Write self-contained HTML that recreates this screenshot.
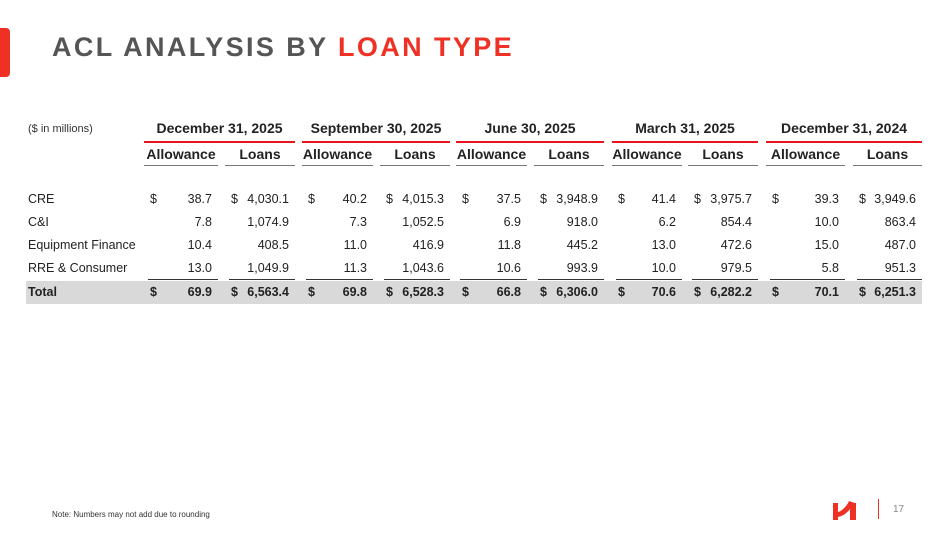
<!DOCTYPE html>
<html><head><meta charset="utf-8"><style>
body{margin:0;width:949px;height:534px;background:#fff;position:relative;overflow:hidden;font-family:"Liberation Sans",sans-serif;color:#222}
.a{position:absolute;white-space:nowrap}
.r{text-align:right}
.t{font-size:12.5px}
.b{font-weight:bold}
</style></head><body>
<div class="a" style="left:0;top:28px;width:10px;height:49px;background:#ee3124;border-radius:0 4px 4px 0"></div>
<div class="a" style="left:52px;top:32px;font-size:27px;font-weight:bold;letter-spacing:2.4px;color:#555">ACL ANALYSIS BY <span style="color:#ee3124">LOAN TYPE</span></div>
<div class="a" style="left:28px;top:123px;font-size:11px;color:#333">($ in millions)</div>
<div class="a" style="left:26px;top:281px;width:896px;height:23px;background:#d9d9d9"></div>
<div id="c"></div>
<div class="a" style="left:52px;top:510px;font-size:8px;color:#333">Note: Numbers may not add due to rounding</div>
<svg class="a" style="left:832px;top:500px" width="30" height="20" viewBox="0 0 30 20"><path d="M1 3h5v9c4-1 9-6 11-11 3 1 5 2 7 2v17h-6V9c-3 4-7 7-12 8v3H1z" fill="#ee3124"/></svg>
<div class="a" style="left:878px;top:499px;width:1px;height:20px;background:#ee3124"></div>
<div class="a" style="left:893px;top:504px;font-size:10px;color:#888">17</div>
<script>
var g=[["December 31, 2025",144,218,225,295],["September 30, 2025",302,373,380,450],["June 30, 2025",456,527,534,604],["March 31, 2025",612,682,688,758],["December 31, 2024",766,845,853,922]];
var d=[["38.7","4,030.1","7.8","1,074.9","10.4","408.5","13.0","1,049.9","69.9","6,563.4"],
["40.2","4,015.3","7.3","1,052.5","11.0","416.9","11.3","1,043.6","69.8","6,528.3"],
["37.5","3,948.9","6.9","918.0","11.8","445.2","10.6","993.9","66.8","6,306.0"],
["41.4","3,975.7","6.2","854.4","13.0","472.6","10.0","979.5","70.6","6,282.2"],
["39.3","3,949.6","10.0","863.4","15.0","487.0","5.8","951.3","70.1","6,251.3"]];
var labels=["CRE","C&amp;I","Equipment Finance","RRE &amp; Consumer","<b>Total</b>"];
var ys=[192,215,238,261,285];
var h="";
for(var i=0;i<5;i++)h+='<div class="a t" style="left:28px;top:'+ys[i]+'px">'+labels[i]+'</div>';
g.forEach(function(q,k){
var s=q[1],ae=q[2],ls=q[3],e=q[4];
h+='<div class="a b r" style="left:'+s+'px;width:'+(e-s)+'px;text-align:center;top:120px;font-size:14px">'+q[0]+'</div>';
h+='<div class="a" style="left:'+s+'px;top:141px;width:'+(e-s)+'px;height:2px;background:#e8141c"></div>';
h+='<div class="a b" style="left:'+s+'px;width:'+(ae-s)+'px;text-align:center;top:146px;font-size:14px">Allowance</div>';
h+='<div class="a b" style="left:'+ls+'px;width:'+(e-ls)+'px;text-align:center;top:146px;font-size:14px">Loans</div>';
h+='<div class="a" style="left:'+s+'px;top:165px;width:'+(ae-s)+'px;height:1px;background:#777"></div>';
h+='<div class="a" style="left:'+ls+'px;top:165px;width:'+(e-ls)+'px;height:1px;background:#777"></div>';
h+='<div class="a" style="left:'+(s+4)+'px;top:279px;width:'+(ae-s-4)+'px;height:1px;background:#333"></div>';
h+='<div class="a" style="left:'+(ls+4)+'px;top:279px;width:'+(e-ls-4)+'px;height:1px;background:#333"></div>';
for(var r=0;r<5;r++){
var cls=r==4?'a t b':'a t';
if(r==0||r==4){
h+='<div class="'+cls+'" style="left:'+(s+6)+'px;top:'+ys[r]+'px">$</div>';
h+='<div class="'+cls+'" style="left:'+(ls+6)+'px;top:'+ys[r]+'px">$</div>';}
h+='<div class="'+cls+' r" style="left:'+(s)+'px;width:'+(ae-s-6)+'px;top:'+ys[r]+'px">'+d[k][r*2]+'</div>';
h+='<div class="'+cls+' r" style="left:'+(ls)+'px;width:'+(e-ls-6)+'px;top:'+ys[r]+'px">'+d[k][r*2+1]+'</div>';
}});
document.getElementById("c").innerHTML=h;
</script>
</body></html>
